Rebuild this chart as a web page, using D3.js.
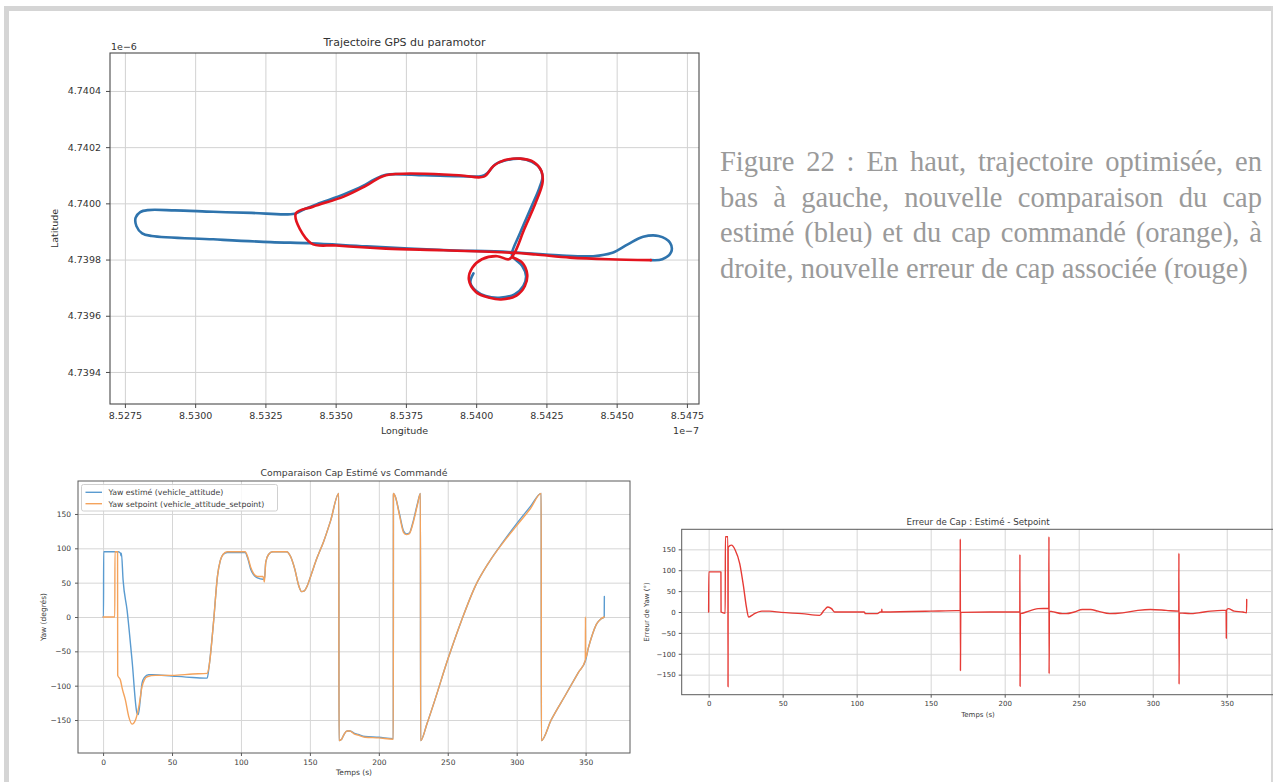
<!DOCTYPE html>
<html><head><meta charset="utf-8">
<script src="https://cdn.jsdelivr.net/npm/d3@7"></script>
<style>body{margin:0;background:#fff}svg{display:block}</style>
</head><body>
<svg id="c" width="1273" height="782"></svg>
<script>
// ---------------- DATA ----------------
const lonTicks = [8.5275, 8.5300, 8.5325, 8.5350, 8.5375, 8.5400, 8.5425, 8.5450, 8.5475];
const latTicks = [4.7394, 4.7396, 4.7398, 4.7400, 4.7402, 4.7404];
const tempsTicks = [0, 50, 100, 150, 200, 250, 300, 350];
const yawTicks = [-150, -100, -50, 0, 50, 100, 150];

// trajectory estimated (blue) [lon, lat]
const trajEstimee = [
[8.539904,4.739751],[8.539795,4.739718],[8.540000,4.739688],[8.540341,4.739670],[8.540819,4.739664],
[8.541366,4.739676],[8.541680,4.739706],[8.541776,4.739741],[8.541639,4.739777],[8.541366,4.739803],
[8.541270,4.739818],[8.541571,4.739896],[8.541981,4.739991],[8.542254,4.740056],[8.542363,4.740097],
[8.542254,4.740127],[8.541981,4.740148],[8.541571,4.740159],[8.541093,4.740154],[8.540683,4.740139],
[8.540410,4.740109],[8.540205,4.740097],[8.539385,4.740097],[8.538156,4.740100],[8.536789,4.740102],
[8.536380,4.740085],[8.535970,4.740062],[8.535287,4.740032],[8.534467,4.740002],[8.533921,4.739981],
[8.533538,4.739963],[8.532008,4.739966],[8.530642,4.739970],[8.529276,4.739975],[8.528320,4.739976],
[8.528046,4.739969],[8.527883,4.739949],[8.527910,4.739919],[8.528115,4.739893],[8.528456,4.739884],
[8.530642,4.739872],[8.532691,4.739862],[8.534126,4.739858],[8.536106,4.739847],[8.538839,4.739834],
[8.541161,4.739827],[8.542937,4.739815],[8.544166,4.739812],[8.544850,4.739824],[8.545396,4.739854],
[8.545942,4.739881],[8.546489,4.739884],[8.546899,4.739860],[8.546940,4.739827],[8.546625,4.739801],
[8.546216,4.739798]
];
// trajectory optimised (red) [lon, lat]
const trajOptimisee = [
[8.546216,4.739798],[8.544713,4.739801],[8.543347,4.739807],[8.542117,4.739818],[8.541298,4.739824],
[8.538839,4.739833],[8.536789,4.739839],[8.535014,4.739850],[8.534126,4.739858],[8.533579,4.739963],
[8.534194,4.739988],[8.535287,4.740024],[8.536106,4.740064],[8.536789,4.740100],[8.539385,4.740100],
[8.540273,4.740095],[8.540615,4.740133],[8.541024,4.740154],[8.541571,4.740159],[8.542049,4.740147],
[8.542322,4.740115],[8.542363,4.740074],[8.542117,4.740002],[8.541707,4.739907],[8.541366,4.739824],
[8.541161,4.739801],[8.540751,4.739812],[8.540205,4.739801],[8.539863,4.739771],[8.539740,4.739729],
[8.540000,4.739684],[8.540478,4.739664],[8.540888,4.739658],[8.541434,4.739672],[8.541735,4.739706],
[8.541817,4.739747],[8.541639,4.739789],[8.541298,4.739807]
];

// yaw estimated [t, deg]
const yawEstime = [
[0,0],[0.3,0],[0.4,95],[11,95],[12.6,93],[13,89],[13.3,93],[14.5,54],[17.4,10],[21,-63],[24.6,-140],
[25.5,-142],[27,-120],[28.3,-96],[30,-88],[33,-84],[36,-84],[50,-86],[65,-88],[75.5,-89],
[77,-70],[80,-10],[83,60],[85,82],[87,91],[90,94],[103,94],[105,85],[107,70],[109,62],[112,57],[116,55],
[117,55],[118,80],[120,91],[123,95],[133,95],[136,88],[139,70],[142,45],[144,37],[146,38],[148,45],
[151,62],[155,85],[160,110],[165,140],[171,180],[171.1,-180],[173,-178],[175,-170],[177,-166],[179,-166],
[182,-169],[185,-171],[190,-174],[200,-175],[210.5,-177],[210.6,180],[212,175],[215,150],[218,125],
[220,121],[222,122],[225,140],[228,165],[230.2,180],[230.3,-180],[235,-155],[240,-125],[250,-62],
[260,-5],[270,45],[280,80],[290,109],[300,136],[310,161],[317.8,180],[317.9,-180],[325,-150],[335,-115],
[345,-80],[350,-63],[352,-45],[355,-25],[358,-10],[361,-3],[363.5,0],[363.6,30]
];
// yaw setpoint [t, deg]
const yawSetpoint = [
[0,0],[8.5,0],[8.6,95],[10.5,95],[10.6,-85],[12.6,-92],[14,-105],[16.2,-121],[18.6,-145],[21,-156],
[23.5,-150],[25.9,-131],[28.3,-101],[31.9,-87],[38,-85],[50,-85],[65,-83],[75.5,-82],[77,-70],[80,-10],
[83,60],[85,82],[87,91],[90,95],[103,95],[105,87],[107,73],[109,64],[112,59],[116,59],[117,51],[118,80],
[120,91],[123,95],[133,95],[136,88],[139,70],[142,45],[144,37],[146,38],[148,45],[151,62],[155,85],
[160,110],[165,140],[171,180],[171.1,-180],[173,-178],[175,-170],[177,-166],[179,-166],[182,-170],
[185,-172],[190,-175],[200,-176],[210.5,-178],[210.6,180],[212,175],[215,148],[218,123],[220,120],
[222,121],[225,138],[228,163],[230.2,180],[230.3,-180],[235,-155],[240,-125],[250,-62],[260,-5],
[270,45],[280,80],[290,108],[300,133],[310,158],[317.8,180],[317.9,-180],[325,-150],[335,-115],[345,-80],
[349.8,-63],[349.9,0],[350,-60],[352,-45],[355,-25],[358,-10],[361,-3],[363.5,0]
];
// yaw error [t, deg]
const erreurYaw = [
[0,0],[0.1,96],[8.3,96],[8.4,0],[11.2,-3],[11.3,180],[13,180],[13.1,-179],[13.2,155],[15.4,160],[18,148],
[21,116],[23.6,60],[25.5,12],[27,-12],[30,-6],[36,2],[41,2],[49,-1],[63,-4],[75,-8],[78,4],[80.5,12],
[83,8],[85,0],[105,0],[106,-4],[114,-4],[116,0],[116.9,0],[117,7],[117.1,0],[150,2],[169.9,4],[170,175],
[170.1,-140],[170.3,-1],[190,0],[210.2,0],[210.3,138],[210.4,-178],[210.6,-4],[212,-3],[214.5,0],[222.6,8],[229.8,9],
[229.9,180],[230,-148],[230.2,2],[232,1],[239,-4],[241.6,-4],[247,0],[252.5,6],[258,6],[263,2],[271,-4],
[279.6,-2],[290,4],[298.5,6],[309,4],[317.6,2],[317.7,141],[317.8,-173],[318,-2],[325.6,-4],[331,-2],
[339,2],[347,4],[349.6,4],[349.7,-63],[349.8,4],[351,8],[355,2],[361,0],[363.4,-2],[363.5,30]
];

const captionLines = [
"Figure 22 : En haut, trajectoire optimisée, en",
"bas à gauche, nouvelle comparaison du cap",
"estimé (bleu) et du cap commandé (orange), à",
"droite, nouvelle erreur de cap associée (rouge)"
];

// ---------------- DRAWING ----------------
const FONT = "DejaVu Sans, Verdana, sans-serif";
const svg = d3.select('#c');
svg.append('rect').attr('width',1273).attr('height',782).attr('fill','#fff');
// outer page frame
svg.append('rect').attr('x',4).attr('y',6).attr('width',1269).attr('height',5).attr('fill','#d5d5d5');
svg.append('rect').attr('x',4).attr('y',6).attr('width',5).attr('height',776).attr('fill','#d5d5d5');
svg.append('rect').attr('x',1271).attr('y',6).attr('width',2).attr('height',776).attr('fill','#d8d8d8');

function panel(o){
  const x = d3.scaleLinear().domain(o.xDomain).range([o.left,o.right]);
  const y = d3.scaleLinear().domain(o.yDomain).range([o.bottom,o.top]);
  const w = o.right-o.left, h = o.bottom-o.top;
  const g = svg.append('g');
  g.append('g').attr('transform',`translate(0,${o.bottom})`)
    .call(d3.axisBottom(x).tickValues(o.xTicks).tickSize(-h).tickFormat(''))
    .call(s=>{s.select('.domain').remove();s.selectAll('.tick line').attr('stroke',o.grid).attr('stroke-width',o.gridW);});
  g.append('g').attr('transform',`translate(${o.left},0)`)
    .call(d3.axisLeft(y).tickValues(o.yTicks).tickSize(-w).tickFormat(''))
    .call(s=>{s.select('.domain').remove();s.selectAll('.tick line').attr('stroke',o.grid).attr('stroke-width',o.gridW);});
  svg.append('clipPath').attr('id','clip'+o.id).append('rect')
    .attr('x',o.left).attr('y',o.top).attr('width',w).attr('height',h);
  const plot = g.append('g').attr('clip-path',`url(#clip${o.id})`);
  o.series.forEach(s=>{
    plot.append('path').datum(s.data).attr('fill','none').attr('stroke',s.color)
      .attr('stroke-width',s.width).attr('stroke-linejoin','round').attr('stroke-linecap','round')
      .attr('d',d3.line().x(d=>x(d[0])).y(d=>y(d[1])).curve(s.curve));
  });
  g.append('rect').attr('x',o.left).attr('y',o.top).attr('width',w).attr('height',h)
    .attr('fill','none').attr('stroke',o.frame).attr('stroke-width',o.frameW);
  const ax = g.append('g').attr('transform',`translate(0,${o.bottom})`)
    .call(d3.axisBottom(x).tickValues(o.xTicks).tickSize(o.tick).tickPadding(o.padX).tickFormat(o.xFmt));
  const ay = g.append('g').attr('transform',`translate(${o.left},0)`)
    .call(d3.axisLeft(y).tickValues(o.yTicks).tickSize(o.tick).tickPadding(o.padY).tickFormat(o.yFmt));
  [ax,ay].forEach(a=>{
    a.select('.domain').remove();
    a.selectAll('.tick line').attr('stroke',o.frame);
    a.selectAll('text').attr('font-family',FONT).attr('font-size',o.fs).attr('fill',o.text);
  });
  const cx = (o.left+o.right)/2;
  g.append('text').attr('x',o.titleX||cx).attr('y',o.titleY).attr('text-anchor','middle')
    .attr('font-family',FONT).attr('font-size',o.titleFs).attr('fill',o.text).text(o.title);
  g.append('text').attr('x',o.xLabelX||cx).attr('y',o.xLabelY).attr('text-anchor','middle')
    .attr('font-family',FONT).attr('font-size',o.labelFs).attr('fill',o.text).text(o.xLabel);
  g.append('text').attr('transform',`translate(${o.yLabelX},${(o.top+o.bottom)/2}) rotate(-90)`)
    .attr('text-anchor','middle').attr('font-family',FONT).attr('font-size',o.labelFs)
    .attr('fill',o.text).text(o.yLabel);
  return {x,y,g};
}

// GPS trajectory
const gps = panel({
  id:'gps', left:110, right:699, top:53, bottom:404,
  xDomain:[8.52697,8.54793], yDomain:[4.739286,4.740535],
  xTicks:lonTicks, yTicks:latTicks, xFmt:d3.format('.4f'), yFmt:d3.format('.4f'),
  grid:'#d2d2d2', gridW:1, frame:'#4a4a4a', frameW:1.1, tick:4, padX:4, padY:5,
  fs:9.5, text:'#333', title:'Trajectoire GPS du paramotor', titleY:46, titleFs:11,
  xLabel:'Longitude', xLabelY:434, yLabel:'Latitude', yLabelX:58, labelFs:9.5,
  series:[
    {data:trajEstimee, color:'#2f74ad', width:2.6, curve:d3.curveCatmullRom.alpha(0.5)},
    {data:trajOptimisee, color:'#e3141e', width:2.6, curve:d3.curveCatmullRom.alpha(0.5)}
  ]
});
gps.g.append('text').attr('x',111).attr('y',49.5).attr('font-family',FONT).attr('font-size',9.5).attr('fill','#333').text('1e\u22126');
gps.g.append('text').attr('x',699).attr('y',434).attr('text-anchor','end').attr('font-family',FONT).attr('font-size',9.5).attr('fill','#333').text('1e\u22127');

// Yaw comparison
const cmp = panel({
  id:'cmp', left:78, right:630, top:481, bottom:753,
  xDomain:[-18.2,382.2], yDomain:[-198,198],
  xTicks:tempsTicks, yTicks:yawTicks, xFmt:d3.format('d'), yFmt:d3.format('d'),
  grid:'#d6d6d6', gridW:1, frame:'#5a5a5a', frameW:1, tick:3, padX:3.5, padY:4,
  fs:7.5, text:'#3a3a3a', title:'Comparaison Cap Estimé vs Commandé', titleY:476, titleFs:9.3,
  xLabel:'Temps (s)', xLabelY:775, yLabel:'Yaw (degrés)', yLabelX:46, labelFs:7.5,
  series:[
    {data:yawEstime, color:'#5a9bd0', width:1.4, curve:d3.curveMonotoneX},
    {data:yawSetpoint, color:'#f4a35c', width:1.4, curve:d3.curveMonotoneX}
  ]
});
// legend
const leg = cmp.g.append('g');
leg.append('rect').attr('x',81.5).attr('y',484.5).attr('width',196).attr('height',26.5).attr('rx',2)
  .attr('fill','#fff').attr('fill-opacity',0.85).attr('stroke','#d0d0d0');
[['Yaw estimé (vehicle_attitude)','#5a9bd0',492.3],['Yaw setpoint (vehicle_attitude_setpoint)','#f4a35c',503.7]].forEach(([t,c,yy])=>{
  leg.append('line').attr('x1',85.5).attr('x2',102).attr('y1',yy).attr('y2',yy).attr('stroke',c).attr('stroke-width',1.4);
  leg.append('text').attr('x',108.5).attr('y',yy+2.8).attr('font-family',FONT).attr('font-size',7.8).attr('fill','#3a3a3a').text(t);
});

// Error chart
panel({
  id:'err', left:681.7, right:1274.4, top:529.3, bottom:694.7,
  xDomain:[-18.2,382.2], yDomain:[-198,198],
  xTicks:tempsTicks, yTicks:yawTicks, xFmt:d3.format('d'), yFmt:d3.format('d'),
  grid:'#d6d6d6', gridW:1, frame:'#5a5a5a', frameW:1, tick:3, padX:3, padY:3,
  fs:7, text:'#3a3a3a', title:'Erreur de Cap : Estimé - Setpoint', titleY:525, titleFs:8.7,
  titleX:978, xLabelX:978,
  xLabel:'Temps (s)', xLabelY:717, yLabel:'Erreur de Yaw (°)', yLabelX:649, labelFs:7,
  series:[
    {data:erreurYaw, color:'#e63b36', width:1.4, curve:d3.curveMonotoneX}
  ]
});

// caption
captionLines.forEach((t,i)=>{
  const el = svg.append('text').attr('x',720).attr('y',171+i*35.7)
    .attr('font-family','Liberation Serif, Times New Roman, serif').attr('font-size',28.5)
    .attr('fill','#9a9a9a').text(t);
  if(i<3){
    const wNat = el.node().getComputedTextLength();
    const n = t.split(' ').length-1;
    el.attr('word-spacing',(542-wNat)/n);
  }
});
</script>
</body></html>
